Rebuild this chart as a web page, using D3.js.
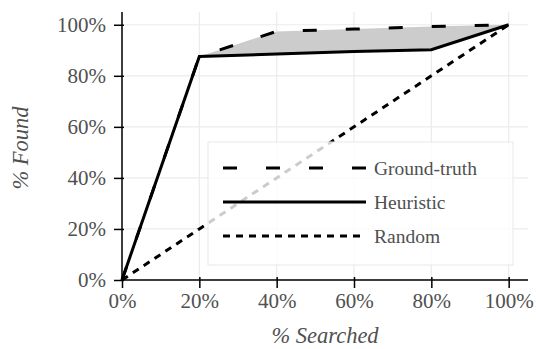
<!DOCTYPE html>
<html>
<head>
<meta charset="utf-8">
<script src="https://cdn.jsdelivr.net/npm/d3@7"></script>
<style>
  #chart text { font-family: "Liberation Serif", "Times New Roman", Tinos, FreeSerif, serif; }
</style>
</head>
<body style="margin:0">
<div id="chart"></div>
<script>
// data
const searched    = [0, 0.2, 0.4, 0.6, 0.8, 1];
const groundTruth = [0, 0.876, 0.974, 0.983, 0.993, 1];
const heuristic   = [0, 0.876, 0.885, 0.895, 0.902, 1];
const randomFound = [0, 0.2, 0.4, 0.6, 0.8, 1];
const tickValues  = [0, 0.2, 0.4, 0.6, 0.8, 1];
const seriesNames = ["Ground-truth", "Heuristic", "Random"];

const textColor = "#505050";

const width = 536, height = 349;
const margin = {top: 12, right: 8, bottom: 69, left: 122};
const w = width - margin.left - margin.right;
const h = height - margin.top - margin.bottom;

const svg = d3.select("#chart").append("svg")
    .attr("width", width)
    .attr("height", height);

const g = svg.append("g")
    .attr("transform", `translate(${margin.left},${margin.top})`);

const x = d3.scaleLinear().domain([0, 1.05]).range([0, w]);
const y = d3.scaleLinear().domain([0, 1.05]).range([h, 0]);
const fmt = d => Math.round(d * 100) + "%";

// grid
g.selectAll("line.vgrid").data(tickValues).join("line")
    .attr("class", "vgrid")
    .attr("x1", d => x(d)).attr("x2", d => x(d))
    .attr("y1", 0).attr("y2", h)
    .style("stroke", "#ebebeb").style("stroke-width", 1.2);
g.selectAll("line.hgrid").data(tickValues).join("line")
    .attr("class", "hgrid")
    .attr("x1", 0).attr("x2", w)
    .attr("y1", d => y(d)).attr("y2", d => y(d))
    .style("stroke", "#ebebeb").style("stroke-width", 1.2);

const pts = s => searched.map((v, i) => ({x: v, y: s[i]}));

// shaded gap between ground-truth and heuristic
const areaData = searched.map((v, i) => ({x: v, y0: heuristic[i], y1: groundTruth[i]}))
    .filter(d => d.x >= 0.2);
g.append("path")
    .datum(areaData)
    .attr("d", d3.area().x(d => x(d.x)).y0(d => y(d.y0)).y1(d => y(d.y1)))
    .style("fill", "#cccccc");

const line = d3.line().x(d => x(d.x)).y(d => y(d.y));

const styles = [
  {data: groundTruth, dash: "14,29"},
  {data: heuristic, dash: null},
  {data: randomFound, dash: "7,6"}
];

// random first so the others sit on top
[styles[2], styles[0], styles[1]].forEach(s => {
  g.append("path")
    .datum(pts(s.data))
    .attr("d", line)
    .style("fill", "none")
    .style("stroke", "#000")
    .style("stroke-width", 3)
    .style("stroke-dasharray", s.dash);
});

// axes
const xAxis = g.append("g")
    .attr("transform", `translate(0,${h})`)
    .call(d3.axisBottom(x).tickValues(tickValues).tickFormat(fmt).tickSize(8).tickPadding(5));
const yAxis = g.append("g")
    .call(d3.axisLeft(y).tickValues(tickValues).tickFormat(fmt).tickSize(8).tickPadding(8));

[xAxis, yAxis].forEach(a => {
  a.attr("font-family", null);
  a.select(".domain").attr("d", null);
  a.selectAll(".tick line").style("stroke", "#000").style("stroke-width", 1.5);
  a.selectAll(".tick text")
    .style("font-size", "21px")
    .style("fill", textColor);
});
xAxis.selectAll(".tick line").attr("y1", -3);
yAxis.selectAll(".tick line").attr("x1", 2);

g.append("line").attr("x1", 0).attr("x2", w).attr("y1", h).attr("y2", h)
    .style("stroke", "#000").style("stroke-width", 1.5);
g.append("line").attr("x1", 0).attr("x2", 0).attr("y1", 0).attr("y2", h)
    .style("stroke", "#000").style("stroke-width", 1.5);

// axis titles
svg.append("text")
    .attr("x", margin.left + w / 2).attr("y", 343)
    .attr("text-anchor", "middle")
    .style("font-style", "italic").style("font-size", "22.5px").style("fill", textColor)
    .text("% Searched");
svg.append("text")
    .attr("transform", `translate(28,${margin.top + h / 2 + 2}) rotate(-90)`)
    .attr("text-anchor", "middle")
    .style("font-style", "italic").style("font-size", "22.5px").style("fill", textColor)
    .text("% Found");

// legend
const leg = svg.append("g").attr("transform", "translate(208,142)");
leg.append("rect")
    .attr("width", 305).attr("height", 123)
    .style("fill", "#fff").style("fill-opacity", 0.8)
    .style("stroke", "#e8e8e8").style("stroke-width", 1);
const rowY = d3.scalePoint().domain(seriesNames).range([26, 94]);
seriesNames.forEach((name, i) => {
  leg.append("line")
    .attr("x1", 15).attr("x2", 158)
    .attr("y1", rowY(name)).attr("y2", rowY(name))
    .style("stroke", "#000").style("stroke-width", 3)
    .style("stroke-dasharray", styles[i].dash);
  leg.append("text")
    .attr("x", 166).attr("y", rowY(name) + 7)
    .style("font-size", "19.5px").style("fill", textColor)
    .text(name);
});
</script>
</body>
</html>
